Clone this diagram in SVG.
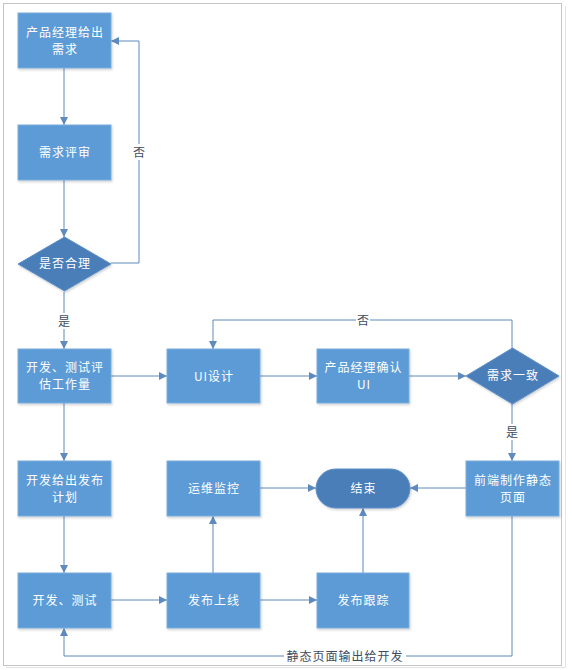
<svg xmlns="http://www.w3.org/2000/svg" width="572" height="670" viewBox="0 0 572 670">
<style>
.box{fill:#5B9BD5;stroke:#7AAEDD;stroke-width:1;filter:url(#sh)}
.dk{fill:#4A7EB8;stroke:#5D8FC6;stroke-width:1;filter:url(#sh)}
.t{font-family:"Noto Sans CJK SC","Liberation Sans",sans-serif;font-size:12px;fill:#ffffff;text-anchor:middle;letter-spacing:1px}
.c{fill:none;stroke:#5E8ABD;stroke-width:1}
.lb{font-family:"Noto Sans CJK SC","Liberation Sans",sans-serif;font-size:12px;fill:#3E4D60;text-anchor:middle}
</style>
<defs>
<filter id="sh" x="-10%" y="-10%" width="125%" height="130%">
<feDropShadow dx="1" dy="1.5" stdDeviation="1" flood-color="#000" flood-opacity="0.18"/>
</filter>
<marker id="a" viewBox="0 0 10 10" refX="10" refY="5" markerWidth="8" markerHeight="8" orient="auto" markerUnits="userSpaceOnUse">
<path d="M0,0 L10,5 L0,10 Z" fill="#5E8ABD"/>
</marker>
</defs>
<rect width="572" height="670" fill="#ffffff"/>
<rect x="3.5" y="3.5" width="558" height="662" fill="none" stroke="#C4C4C4"/>
<path d="M565.5 6 V667.5 H6" fill="none" stroke="#E4E4E4"/>

<g id="connectors">
<path class="c" d="M64 68 V125" marker-end="url(#a)"/>
<path class="c" d="M64 180 V237" marker-end="url(#a)"/>
<path class="c" d="M111 263 H139 V41 H111" marker-end="url(#a)"/>
<path class="c" d="M64 292 V349" marker-end="url(#a)"/>
<path class="c" d="M64 403 V461" marker-end="url(#a)"/>
<path class="c" d="M64 516 V573" marker-end="url(#a)"/>
<path class="c" d="M111 600 H167" marker-end="url(#a)"/>
<path class="c" d="M111 376 H167" marker-end="url(#a)"/>
<path class="c" d="M260 376 H317" marker-end="url(#a)"/>
<path class="c" d="M409 376 H466" marker-end="url(#a)"/>
<path class="c" d="M512 348 V320 H213 V349" marker-end="url(#a)"/>
<path class="c" d="M512 404 V461" marker-end="url(#a)"/>
<path class="c" d="M466 488 H410" marker-end="url(#a)"/>
<path class="c" d="M260 488 H316" marker-end="url(#a)"/>
<path class="c" d="M213 573 V516" marker-end="url(#a)"/>
<path class="c" d="M260 600 H317" marker-end="url(#a)"/>
<path class="c" d="M363 573 V508" marker-end="url(#a)"/>
<path class="c" d="M512 516 V656 H64 V628" marker-end="url(#a)"/>
<rect x="132" y="144" width="14" height="16" fill="#fff"/>
<text class="lb" x="139" y="156.5">否</text>
<rect x="57" y="313" width="14" height="16" fill="#fff"/>
<text class="lb" x="64" y="325.5">是</text>
<rect x="356" y="312" width="14" height="16" fill="#fff"/>
<text class="lb" x="363" y="324.5">否</text>
<rect x="505" y="424" width="14" height="16" fill="#fff"/>
<text class="lb" x="512" y="436.5">是</text>
<rect x="284" y="648" width="122" height="16" fill="#fff"/>
<text class="lb" x="345" y="660.5" letter-spacing="1">静态页面输出给开发</text>
</g>

<g id="n1"><rect class="box" x="18" y="13" width="93" height="55"/><text class="t" x="65" y="37">产品经理给出</text><text class="t" x="65" y="54">需求</text></g>
<g id="n2"><rect class="box" x="18" y="125" width="93" height="55"/><text class="t" x="65" y="157">需求评审</text></g>
<g id="n3"><path class="dk" d="M64.5 237 L111 264 L64.5 291 L18 264 Z"/><text class="t" x="65" y="268">是否合理</text></g>
<g id="n4"><rect class="box" x="18" y="349" width="93" height="54"/><text class="t" x="65" y="372">开发、测试评</text><text class="t" x="65" y="389">估工作量</text></g>
<g id="n5"><rect class="box" x="18" y="461" width="93" height="55"/><text class="t" x="65" y="485">开发给出发布</text><text class="t" x="65" y="502">计划</text></g>
<g id="n6"><rect class="box" x="18" y="573" width="93" height="55"/><text class="t" x="65" y="605">开发、测试</text></g>
<g id="n7"><rect class="box" x="167" y="349" width="93" height="54"/><text class="t" x="214" y="381" letter-spacing="0">UI设计</text></g>
<g id="n8"><rect class="box" x="317" y="349" width="92" height="54"/><text class="t" x="363.5" y="372">产品经理确认</text><text class="t" x="364" y="389" letter-spacing="3">UI</text></g>
<g id="n9"><path class="dk" d="M512.5 348 L559 376 L512.5 404 L466 376 Z"/><text class="t" x="513" y="380">需求一致</text></g>
<g id="n10"><rect class="box" x="466" y="461" width="93" height="55"/><text class="t" x="513" y="485">前端制作静态</text><text class="t" x="513" y="502">页面</text></g>
<g id="n11"><rect class="box" x="167" y="461" width="93" height="55"/><text class="t" x="214" y="493">运维监控</text></g>
<g id="n12"><rect class="dk" x="316" y="469" width="94" height="39" rx="19.5"/><text class="t" x="363.5" y="493">结束</text></g>
<g id="n13"><rect class="box" x="167" y="573" width="93" height="55"/><text class="t" x="214" y="605">发布上线</text></g>
<g id="n14"><rect class="box" x="317" y="573" width="92" height="55"/><text class="t" x="363.5" y="605">发布跟踪</text></g>
</svg>
